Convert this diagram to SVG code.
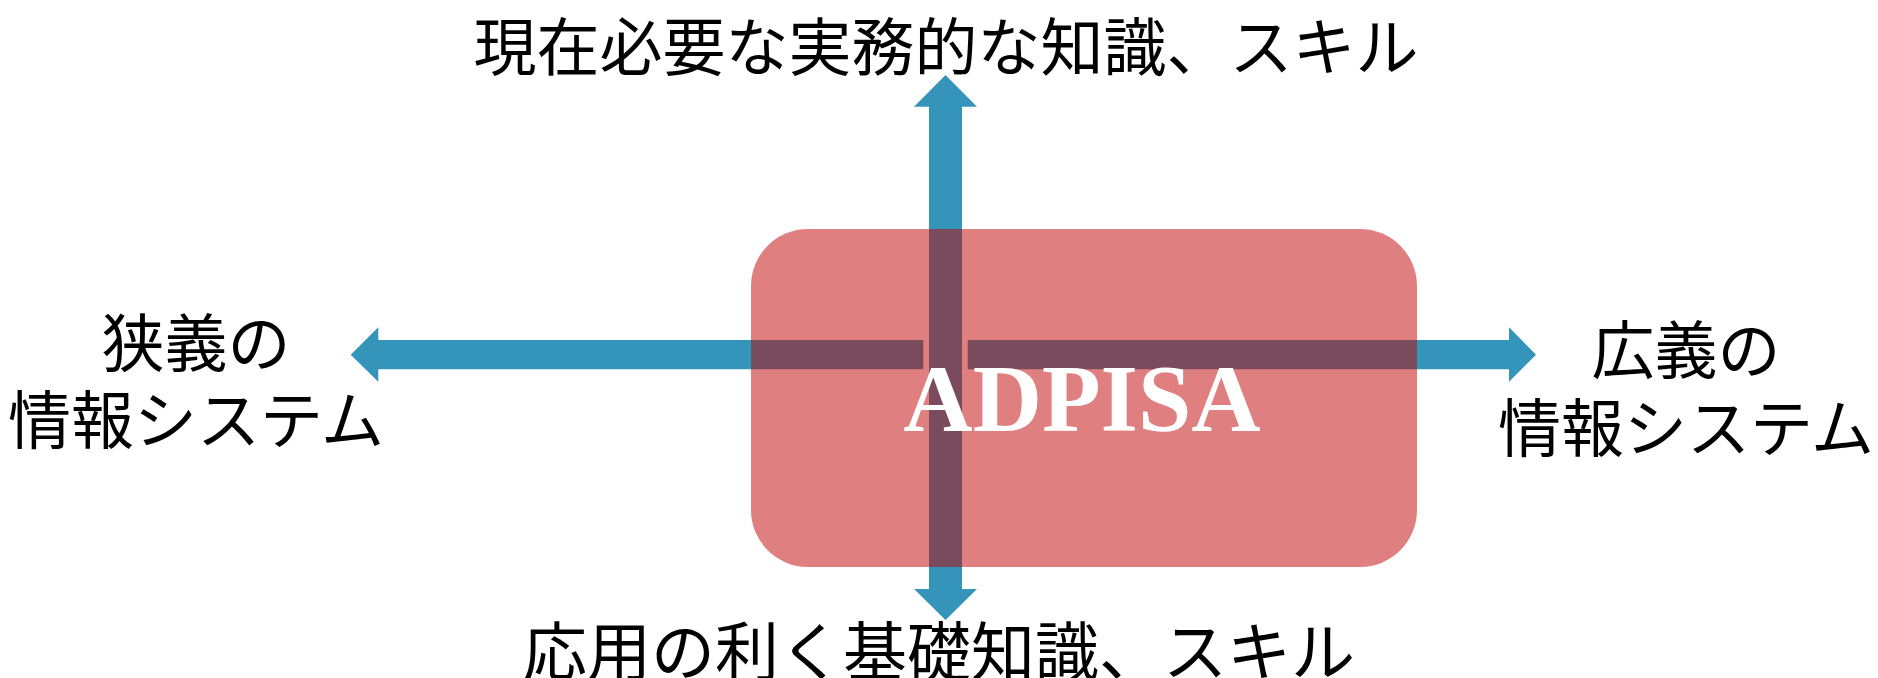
<svg xmlns="http://www.w3.org/2000/svg" width="1878" height="678" viewBox="0 0 1878 678">
<style>
.arrow{fill:#3494BA}
.box{fill:#C00000;fill-opacity:0.5}
.jp{font-family:"Noto Sans CJK JP","Noto Sans",sans-serif;fill:#000;text-anchor:middle}
.title{font-family:"Liberation Serif","Times New Roman",serif;font-weight:bold;fill:#FFFFFF;text-anchor:middle}
</style>
<rect width="1878" height="678" fill="#FFFFFF"/>
<g id="connectors">
<polygon class="arrow" points="929,589 929,106.7 914,106.7 945.5,75 977,106.7 962,106.7 962,589 977,589 945.5,620 914,589"/>
<polygon class="arrow" points="923.3,340 378.3,340 378.3,327.3 350.7,354.7 378.3,381.7 378.3,369.3 923.3,369.3"/>
<polygon class="arrow" points="967.7,340 1509,340 1509,327.3 1536,354.7 1509,381.7 1509,369.3 967.7,369.3"/>
</g>
<g id="adpisa">
<rect class="box" x="751" y="229" width="666" height="338" rx="57" ry="57"/>
<text class="title" x="1082" y="431" font-size="96">ADPISA</text>
</g>
<g id="top-label">
<text class="jp" x="946" y="70" font-size="63">現在必要な実務的な知識、スキル</text>
</g>
<g id="bottom-label">
<text class="jp" x="939" y="675" font-size="64">応用の利く基礎知識、スキル</text>
</g>
<g id="left-label">
<text class="jp" x="196" y="366" font-size="63">狭義の</text>
<text class="jp" x="196" y="443" font-size="63">情報システム</text>
</g>
<g id="right-label">
<text class="jp" x="1686" y="373" font-size="63">広義の</text>
<text class="jp" x="1686" y="451" font-size="63">情報システム</text>
</g>
</svg>
